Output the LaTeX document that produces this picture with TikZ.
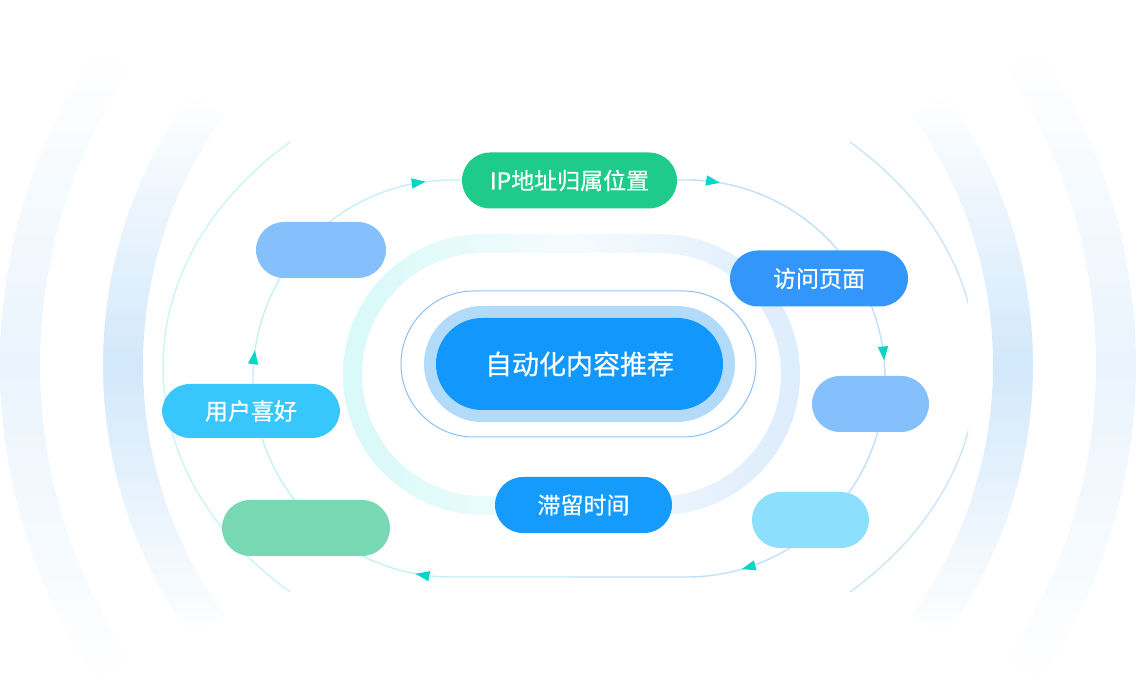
\documentclass[tikz,border=0pt]{standalone}
\usepackage{fontspec}
\newfontfamily\cjk{Noto Sans CJK SC}[FakeBold=0.5]
\usetikzlibrary{arrows.meta,decorations.markings}
\definecolor{bandIn}{RGB}{210,232,251}
\definecolor{bandOut}{RGB}{234,244,253}
\definecolor{thinL}{RGB}{205,245,247}
\definecolor{thinR}{RGB}{205,230,250}
\definecolor{ringL}{RGB}{212,248,248}
\definecolor{ringM}{RGB}{246,252,254}
\definecolor{ringR}{RGB}{212,232,251}
\definecolor{trackL}{RGB}{196,240,246}
\definecolor{trackR}{RGB}{190,224,250}
\definecolor{tipcol}{RGB}{6,214,198}
\definecolor{halo}{RGB}{178,219,250}
\definecolor{rimline}{RGB}{140,192,245}
\definecolor{corecol}{RGB}{18,152,252}
\definecolor{ipgreen}{RGB}{30,203,139}
\definecolor{visitblue}{RGB}{51,150,250}
\definecolor{softblue}{RGB}{133,191,252}
\definecolor{skyblue}{RGB}{140,224,253}
\definecolor{stayblue}{RGB}{20,155,252}
\definecolor{mint}{RGB}{121,216,180}
\definecolor{prefblue}{RGB}{56,199,253}
\pgfdeclarehorizontalshading{ringfade}{100bp}{color(0bp)=(ringL); color(28bp)=(ringL!85!white);
  color(50bp)=(ringM); color(72bp)=(ringR!75!white); color(100bp)=(ringR)}

\begin{document}
\begin{tikzpicture}[x=1pt,y=1pt,
    pill/.style={rectangle,rounded corners=28pt,minimum height=56pt,inner sep=0pt,fill=#1,text=white,font=\cjk\fontsize{23}{23}\selectfont},
    tipat/.style={postaction={decorate,decoration={markings,mark=at position #1 with {\arrow{Triangle[length=14pt,width=10pt,color=tipcol]}}}}}]
  \useasboundingbox (0,0) rectangle (1140,700);
  \coordinate (hub) at (568,335);
  % fading bands left and right
  \foreach \rr/\col/\aa in {465/bandIn/36, 568/bandOut/34} {
    \shade[top color=white,bottom color=white,middle color=\col]
      ([shift={(180-\aa:\rr)}]hub) arc[start angle=180-\aa,end angle=180+\aa,radius=\rr]
      -- ++(\aa:40) arc[start angle=180+\aa,end angle=180-\aa,radius=\rr-40] -- cycle;
    \shade[top color=white,bottom color=white,middle color=\col]
      ([shift={(-\aa:\rr)}]hub) arc[start angle=-\aa,end angle=\aa,radius=\rr]
      -- ++(180+\aa:40) arc[start angle=\aa,end angle=-\aa,radius=\rr-40] -- cycle;
  }
  % thin ellipse, cut flat on the right
  \begin{scope}
    \clip (0,108) rectangle (968,557);
    \draw[line width=1.5pt,thinL] (570,643) arc[start angle=90,end angle=270,x radius=407,y radius=310];
    \draw[line width=1.5pt,thinR] (570,23) arc[start angle=-90,end angle=90,x radius=407,y radius=310];
  \end{scope}
  % big ring round the core
  \shade[even odd rule,shading=ringfade]
    [rounded corners=140.5] (343,185) rectangle (800,466)
    [rounded corners=121.5] (362,204) rectangle (781,447);
  % the loop with its arrow tips
  \draw[trackR,line width=1.4pt,tipat=0.176,tipat=0.479,tipat=0.798]
    (569,520) -- (686.5,520) arc[start angle=90,end angle=-90,radius=198.5] -- (569,123);
  \draw[trackL,line width=1.4pt,tipat=0.179,tipat=0.533,tipat=0.833]
    (569,123) -- (451.5,123) arc[start angle=270,end angle=90,radius=198.5] -- (569,520);
  % core
  \node[draw=rimline,line width=1pt,rectangle,rounded corners=73pt,minimum width=355pt,minimum height=146pt] (coreRim) at (578.5,336) {};
  \node[fill=halo,rectangle,rounded corners=58pt,minimum width=311pt,minimum height=116pt] (coreHalo) at (579.5,336) {};
  \node[pill=corecol,rounded corners=46pt,minimum width=287pt,minimum height=92pt,font=\cjk\fontsize{27}{27}\selectfont] (core) at (579.5,336) {自动化内容推荐};
  % nodes on the loop
  \node[pill=ipgreen,minimum width=215pt] (ip) at (569.5,519.5) {IP地址归属位置};
  \node[pill=visitblue,minimum width=178pt] (visit) at (819,421.5) {访问页面};
  \node[pill=softblue,minimum width=117pt] (slotR) at (870.5,296) {};
  \node[pill=skyblue,minimum width=117pt] (slotC) at (810.5,180) {};
  \node[pill=stayblue,minimum width=177pt] (stay) at (583.5,195) {滞留时间};
  \node[pill=mint,minimum width=168pt] (slotG) at (306,172) {};
  \node[pill=prefblue,minimum width=178pt,minimum height=54pt] (pref) at (251,289) {用户喜好};
  \node[pill=softblue,minimum width=130pt] (slotTL) at (321,450) {};
\end{tikzpicture}
\end{document}
